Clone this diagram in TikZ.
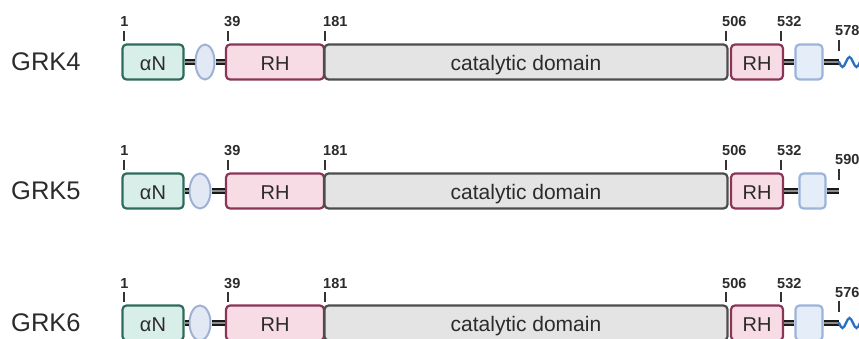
\documentclass[tikz,border=0pt]{standalone}
\usepackage{fontspec}
\setmainfont{Liberation Sans}
\usetikzlibrary{shapes.geometric}
\definecolor{tealB}{HTML}{2F6B5C}
\definecolor{tealF}{HTML}{D8EEE8}
\definecolor{pinkB}{HTML}{8A3558}
\definecolor{pinkF}{HTML}{F7DCE5}
\definecolor{catB}{HTML}{4D4D4D}
\definecolor{catF}{HTML}{E4E4E4}
\definecolor{bluB}{HTML}{9CB3DA}
\definecolor{bluF}{HTML}{E5EDF9}
\definecolor{ellB}{HTML}{9FB2D4}
\definecolor{ellF}{HTML}{E2E9F4}
\definecolor{waveC}{HTML}{2A6FC0}
\definecolor{txt}{HTML}{2B2B2B}
\tikzset{
  dom/.style={draw, line width=2.2pt, rounded corners=4pt, minimum height=35pt,
    inner sep=0pt, text height=17pt, text depth=0pt,
    font=\fontsize{20}{20}\selectfont, text=txt},
  ell/.style={ellipse, draw=ellB, fill=ellF, line width=2pt, inner sep=0pt, minimum height=35pt},
  lnk/.style={line width=2.1pt, draw=black!90, double=black!45, double distance=1.5pt},
  tk/.style={line width=1.5pt, draw=black!80},
  num/.style={font=\bfseries\fontsize{14.5}{14.5}\selectfont, inner sep=0pt, text=txt},
  grk/.style={font=\fontsize{25.5}{25.5}\selectfont, inner sep=0pt, text=txt},
  wv/.style={line width=2.3pt, draw=waveC, line cap=round}
}
% #1 id, #2 centre y, #3 name, #4 ell L, #5 ell R, #6 blue L, #7 blue R, #8 end number
\newcommand\grkrow[8]{%
  \node[grk,anchor=west] (name#1) at (11,#2) {#3};
  \node[dom,draw=tealB,fill=tealF,minimum width=61pt] (an#1) at (153,#2) {αN};
  \node[ell,minimum width={#5-#4-1}] (el#1) at ({(#4+#5)/2},#2) {};
  \node[dom,draw=pinkB,fill=pinkF,minimum width=98pt] (rha#1) at (275,#2) {RH};
  \node[dom,draw=catB,fill=catF,minimum width=403pt,font=\fontsize{21}{21}\selectfont] (cat#1) at (526,#2) {catalytic domain};
  \node[dom,draw=pinkB,fill=pinkF,minimum width=52pt] (rhb#1) at (757,#2) {RH};
  \node[dom,draw=bluB,fill=bluF,minimum width={#7-#6-1}] (bl#1) at ({(#6+#7)/2},#2) {};
  \coordinate (end#1) at (839,#2);
  \draw[lnk] (an#1.east) -- (el#1.west);
  \draw[lnk] (el#1.east) -- (rha#1.west);
  \draw[lnk] (rhb#1.east) -- (bl#1.west);
  \draw[lnk] (bl#1.east) -- (end#1);
  \draw[tk] (124,#2-31) -- (124,#2-21);
  \draw[tk] (228,#2-31) -- (228,#2-21);
  \draw[tk] (325,#2-31) -- (325,#2-21);
  \draw[tk] (726,#2-31) -- (726,#2-21);
  \draw[tk] (781,#2-31) -- (781,#2-21);
  \draw[tk] (839,#2-22) -- (839,#2-11);
  \node[num,anchor=base] (n1#1) at (124.5,#2-35) {1};
  \node[num,anchor=base west] (n39#1) at (224,#2-35) {39};
  \node[num,anchor=base west] (n181#1) at (323,#2-35) {181};
  \node[num,anchor=base west] (n506#1) at (722,#2-35) {506};
  \node[num,anchor=base west] (n532#1) at (777,#2-35) {532};
  \node[num,anchor=base west] (nend#1) at (835,#2-26) {#8};
}
\begin{document}
\begin{tikzpicture}[x=1pt,y=-1pt]
\useasboundingbox (0,0) rectangle (859,339);
\clip (0,0) rectangle (859,339);
\grkrow{4}{62}{GRK4}{195}{215}{795}{823}{578}
\grkrow{5}{191}{GRK5}{189}{211}{799}{826}{590}
\grkrow{6}{323}{GRK6}{189}{211}{795}{823}{576}
\draw[wv] (end4) sin ++(3.5,5) cos ++(3.5,-5) sin ++(3.5,-5) cos ++(3.5,5) sin ++(3.5,5) cos ++(3.5,-5) sin ++(3.5,-5);
\draw[wv] (end6) sin ++(3.5,5) cos ++(3.5,-5) sin ++(3.5,-5) cos ++(3.5,5) sin ++(3.5,5) cos ++(3.5,-5) sin ++(3.5,-5);
\end{tikzpicture}
\end{document}
